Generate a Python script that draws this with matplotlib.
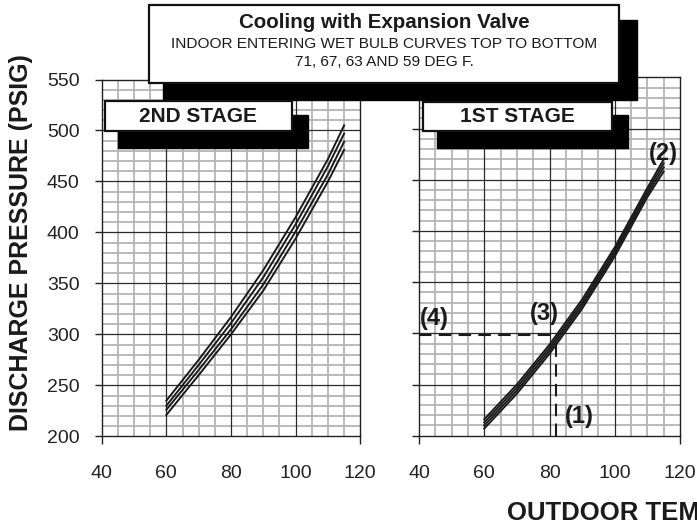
import numpy as np
import matplotlib
matplotlib.use('Agg')
import matplotlib.pyplot as plt
from matplotlib.patches import Rectangle

plt.rcParams['font.family'] = ['Liberation Sans', 'DejaVu Sans']

# outdoor temperature (deg F)
temp = [60, 70, 80, 90, 100, 110, 115]

# 2nd stage, indoor wet bulb 71 / 67 / 63 / 59 deg F
stage2 = {
    71: [235, 275, 317, 363, 415, 472, 505],
    67: [230, 270, 311, 356, 408, 465, 497],
    63: [226, 265, 305, 349, 401, 457, 489],
    59: [221, 260, 300, 343, 394, 450, 481],
}
# 1st stage
stage1 = {
    71: [216, 250, 289, 333, 384, 442, 470],
    67: [213, 247, 286, 330, 381, 439, 466],
    63: [210, 244, 283, 327, 378, 436, 462],
    59: [207, 241, 280, 324, 375, 433, 458],
}

# worked example on the 1st stage chart
ex_temp = 82
ex_press = 298
ex_h_end = 80      # horizontal dash stops at the curve
ex_v_top = 292     # vertical dash stops at the curve

x_ticks = [40, 60, 80, 100, 120]
y_ticks = [200, 250, 300, 350, 400, 450, 500, 550]

W, H = 697, 531
fig = plt.figure(figsize=(W / 100, H / 100), dpi=100)


def px_box(x0, y0, x1, y1):
    return [x0 / W, 1 - y1 / H, (x1 - x0) / W, (y1 - y0) / H]


def shadow_box(box, shadow, z):
    b = px_box(*shadow)
    fig.patches.append(Rectangle((b[0], b[1]), b[2], b[3], transform=fig.transFigure,
                                 facecolor='black', edgecolor='black', zorder=z))
    b = px_box(*box)
    fig.patches.append(Rectangle((b[0], b[1]), b[2], b[3], transform=fig.transFigure,
                                 facecolor='white', edgecolor='#111111', lw=1.6, zorder=z + 0.5))


def setup(ax, show_labels):
    ax.set_xlim(40, 120)
    ax.set_ylim(200, 550)
    for v in range(45, 120, 5):
        if v % 20 == 0:
            ax.axvline(v, color='#2a2a2a', lw=0.9, zorder=1)
        else:
            ax.axvline(v, color='#b4b4b4', lw=1.3, zorder=0.5)
    for h in range(210, 550, 10):
        if h % 50 == 0:
            ax.axhline(h, color='#2a2a2a', lw=0.9, zorder=1)
        else:
            ax.axhline(h, color='#b4b4b4', lw=1.3, zorder=0.5)
    for s in ax.spines.values():
        s.set_color('#222222')
        s.set_linewidth(1.0)
    ax.set_xticks(x_ticks)
    ax.set_xticks([40, 120], minor=True)
    ax.xaxis.remove_overlapping_locs = False
    ax.set_yticks(y_ticks)
    ax.tick_params(axis='x', which='major', length=0, pad=21, labelsize=14, labelcolor='#222222')
    ax.tick_params(axis='x', which='minor', length=6, width=1, color='#222222', direction='out')
    ax.tick_params(axis='y', which='major', length=5, width=1, color='#222222', direction='out',
                   pad=11, labelsize=14, labelcolor='#222222', labelleft=show_labels)


ax1 = fig.add_axes(px_box(101.7, 79.5, 360.3, 436.3))
ax2 = fig.add_axes(px_box(419, 77.3, 680, 435.7))
setup(ax1, True)
setup(ax2, False)

for wb in [71, 67, 63, 59]:
    ax1.plot(temp, stage2[wb], color='#1a1a1a', lw=1.4, zorder=3)
    ax2.plot(temp, stage1[wb], color='#1a1a1a', lw=1.4, zorder=3)

ax2.plot([40, ex_h_end], [ex_press, ex_press], color='#1a1a1a', lw=1.5,
         dashes=(6, 3.5), zorder=3, clip_on=False)
ax2.plot([ex_temp, ex_temp], [200, ex_v_top], color='#1a1a1a', lw=1.5,
         dashes=(6, 3.5), zorder=3, clip_on=False)

ann = dict(fontsize=17, fontweight='bold', ha='center', va='center', color='#1a1a1a', zorder=6)
ax2.text(89.0, 218.3, '(1)', **ann)
ax2.text(114.8, 476, '(2)', clip_on=False, **ann)
ax2.text(78.3, 319.6, '(3)', **ann)
ax2.text(44.6, 314, '(4)', **ann)

# boxes on top
shadow_box((149, 5, 619, 83), (163, 20, 637, 100), 10)
shadow_box((105, 101, 292, 131), (118, 115, 308, 148), 10)
shadow_box((423, 102, 612, 131), (437, 115, 628, 148), 10)

fig.text(384 / W, 1 - 22 / H, 'Cooling with Expansion Valve', fontsize=14.8, fontweight='bold',
         ha='center', va='center', color='#1a1a1a', zorder=12)
fig.text(384 / W, 1 - 44 / H, 'INDOOR ENTERING WET BULB CURVES TOP TO BOTTOM', fontsize=11.1,
         ha='center', va='center', color='#1a1a1a', zorder=12)
fig.text(384 / W, 1 - 62 / H, '71, 67, 63 AND 59 DEG F.', fontsize=11.1,
         ha='center', va='center', color='#1a1a1a', zorder=12)
fig.text(198 / W, 1 - 117 / H, '2ND STAGE', fontsize=15, fontweight='bold',
         ha='center', va='center', color='#1a1a1a', zorder=12)
fig.text(517 / W, 1 - 117 / H, '1ST STAGE', fontsize=15, fontweight='bold',
         ha='center', va='center', color='#1a1a1a', zorder=12)

fig.text(21.5 / W, 1 - 243 / H, 'DISCHARGE PRESSURE (PSIG)', fontsize=18, fontweight='bold',
         rotation=90, ha='center', va='center', color='#1a1a1a')
# the axis title runs off the right edge, as in the original
fig.text(507 / W, 1 - 513 / H, 'OUTDOOR TEMPERATURE (DEG F)', fontsize=18.5, fontweight='bold',
         ha='left', va='center', color='#1a1a1a')

fig.savefig('out.png', dpi=100)
